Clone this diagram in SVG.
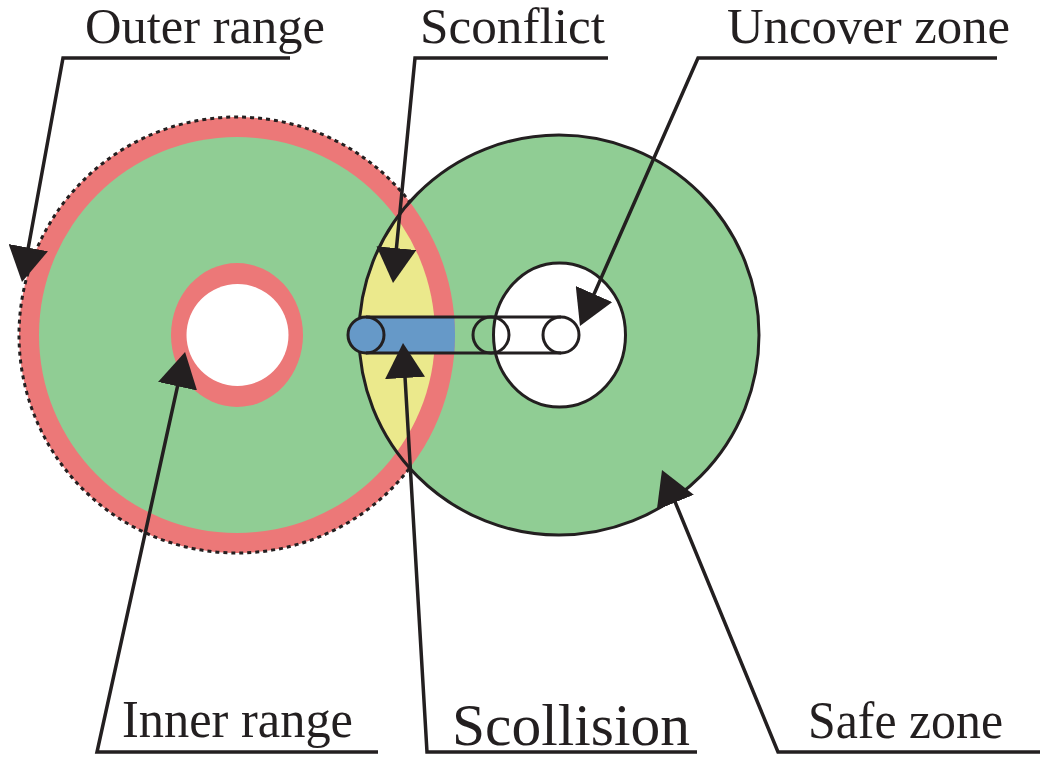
<svg xmlns="http://www.w3.org/2000/svg" width="1040" height="762" viewBox="0 0 1040 762">
<style>
.lbl{font-family:"Liberation Serif","Times New Roman",serif;fill:#231f20}
.lead{fill:none;stroke:#231f20;stroke-width:3.5;stroke-linejoin:miter;marker-end:url(#ah)}
.ol{fill:none;stroke:#231f20;stroke-width:3}
</style>
<defs>
<marker id="ah" viewBox="0 0 35 40" refX="25" refY="20" markerWidth="35" markerHeight="40" markerUnits="userSpaceOnUse" orient="auto">
<path d="M0,0 L35,20 L0,40 Z" fill="#231f20"/>
</marker>
<clipPath id="rightClip"><circle cx="559" cy="335" r="200"/></clipPath>
<clipPath id="leftClip"><circle cx="237" cy="335" r="218"/></clipPath>
</defs>
<rect width="1040" height="762" fill="#ffffff"/>
<g id="left-zone">
<circle cx="237" cy="335" r="218" fill="#ec7878" stroke="#231f20" stroke-width="3" stroke-dasharray="4 4"/>
<circle cx="237" cy="335" r="198" fill="#90cd94"/>
<ellipse cx="237" cy="335" rx="66" ry="72" fill="#ec7878"/>
<circle cx="237.5" cy="335" r="51" fill="#ffffff"/>
</g>
<g id="right-zone">
<circle cx="559" cy="335" r="200" fill="#90cd94"/>
<g clip-path="url(#rightClip)">
<circle cx="237" cy="335" r="218" fill="#ec7878"/>
<circle cx="237" cy="335" r="198" fill="#ebe98c"/>
</g>
<circle cx="559" cy="335" r="200" class="ol"/>
<ellipse cx="559.5" cy="335" rx="66" ry="72" fill="#ffffff" stroke="#231f20" stroke-width="3"/>
</g>
<g id="capsule">
<g clip-path="url(#leftClip)" fill="#6699c8">
<rect x="366" y="317" width="195" height="36"/>
<circle cx="366" cy="335" r="18"/>
</g>
<line x1="366" y1="317" x2="561" y2="317" class="ol"/>
<line x1="366" y1="353" x2="561" y2="353" class="ol"/>
<circle cx="366" cy="335" r="18" class="ol"/>
<circle cx="491" cy="335" r="18" class="ol"/>
<circle cx="561" cy="335" r="18" class="ol"/>
</g>
<g id="connectors">
<path class="lead" d="M290,58 L63,58 L23.8,272.2"/>
<path class="lead" d="M608,58 L415,58 L394,273"/>
<path class="lead" d="M997,58 L698,58 L584,316.9"/>
<path class="lead" d="M378,752 L97,752 L182.9,361.8"/>
<path class="lead" d="M697,752 L427,752 L403.6,353"/>
<path class="lead" d="M1040,752 L778,752 L665.8,479.3"/>
</g>
<g id="label-outer"><text class="lbl" x="85" y="43" font-size="50" textLength="240" lengthAdjust="spacingAndGlyphs">Outer range</text></g>
<g id="label-sconflict"><text class="lbl" x="420" y="43" font-size="50" textLength="185" lengthAdjust="spacingAndGlyphs">Sconflict</text></g>
<g id="label-uncover"><text class="lbl" x="727" y="43" font-size="50" textLength="283" lengthAdjust="spacingAndGlyphs">Uncover zone</text></g>
<g id="label-inner"><text class="lbl" x="122" y="737" font-size="52" textLength="231" lengthAdjust="spacingAndGlyphs">Inner range</text></g>
<g id="label-scollision"><text class="lbl" x="452" y="745" font-size="60" textLength="238" lengthAdjust="spacingAndGlyphs">Scollision</text></g>
<g id="label-safe"><text class="lbl" x="808" y="738" font-size="52" textLength="195" lengthAdjust="spacingAndGlyphs">Safe zone</text></g>
</svg>
